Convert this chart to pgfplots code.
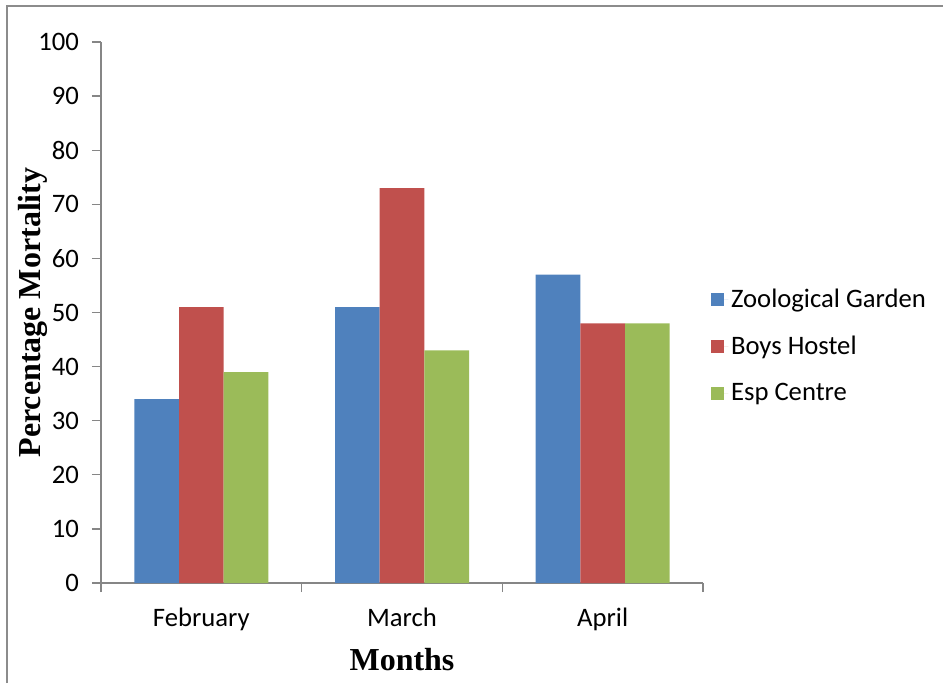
\documentclass[border=0pt]{standalone}
\usepackage{pgfplots}
\pgfplotsset{compat=1.18}
\usepackage{fontspec}
\setmainfont{Carlito}
\newfontfamily\tnr{Liberation Serif}
\definecolor{zg}{HTML}{4F81BD}
\definecolor{bh}{HTML}{C0504D}
\definecolor{ec}{HTML}{9BBB59}
\definecolor{axgray}{HTML}{868686}
\definecolor{framegray}{HTML}{8C8C8C}
\begin{document}
\begin{tikzpicture}
\path[use as bounding box] (0pt,0pt) rectangle (707.25pt,-512.25pt);
\draw[framegray, line width=1.5pt] (4.9pt,-512.25pt) -- (4.9pt,-4.6pt) -- (707.25pt,-4.6pt);
\begin{axis}[
  at={(75.75pt,-437.25pt)}, anchor=south west,
  scale only axis, width=451.5pt, height=405.75pt,
  xmin=-0.5, xmax=2.5, ymin=0, ymax=100,
  ybar=0pt, bar width=33.5pt,
  axis x line*=bottom, axis y line*=left,
  axis line style={draw=axgray, line width=1pt, -},
  tick align=outside, major tick length=6.75pt,
  tick style={draw=axgray, line width=1pt},
  ytick={0,10,...,100},
  xtick={-0.5,0.5,1.5,2.5}, xticklabels={},
  extra x ticks={0,1,2},
  extra x tick labels={February,March,April},
  extra x tick style={major tick length=0pt},
  /pgf/number format/assume math mode=true,
  tick label style={font=\fontsize{20pt}{24pt}\selectfont},
  yticklabel style={anchor=east, xshift=-6.25pt},
  xticklabel style={anchor=base, yshift=-32.25pt},
  xlabel={\tnr\bfseries Months},
  ylabel={\tnr\bfseries Percentage Mortality},
  xlabel style={at={(axis description cs:0.5,-0.1423)}, anchor=center, font=\fontsize{24pt}{28pt}\selectfont},
  ylabel style={at={(axis description cs:-0.113,0.5)}, anchor=center, font=\fontsize{24pt}{28pt}\selectfont},
  legend style={at={(axis description cs:1.0135,0.438)}, anchor=west, draw=none, fill=none,
    font=\fontsize{20pt}{24pt}\selectfont, row sep=16pt, inner xsep=0pt},
  legend cell align=left,
  legend image code/.code={\fill[#1] (0pt,-4.875pt) rectangle (9.75pt,4.875pt); \path (0pt,0pt) -- (12.75pt,0pt);},
]
\addplot[fill=zg, draw=none] coordinates {(0,34) (1,51) (2,57)};
\addplot[fill=bh, draw=none] coordinates {(0,51) (1,73) (2,48)};
\addplot[fill=ec, draw=none] coordinates {(0,39) (1,43) (2,48)};
\legend{Zoological Garden, Boys Hostel, Esp Centre}
\end{axis}
\end{tikzpicture}
\end{document}
